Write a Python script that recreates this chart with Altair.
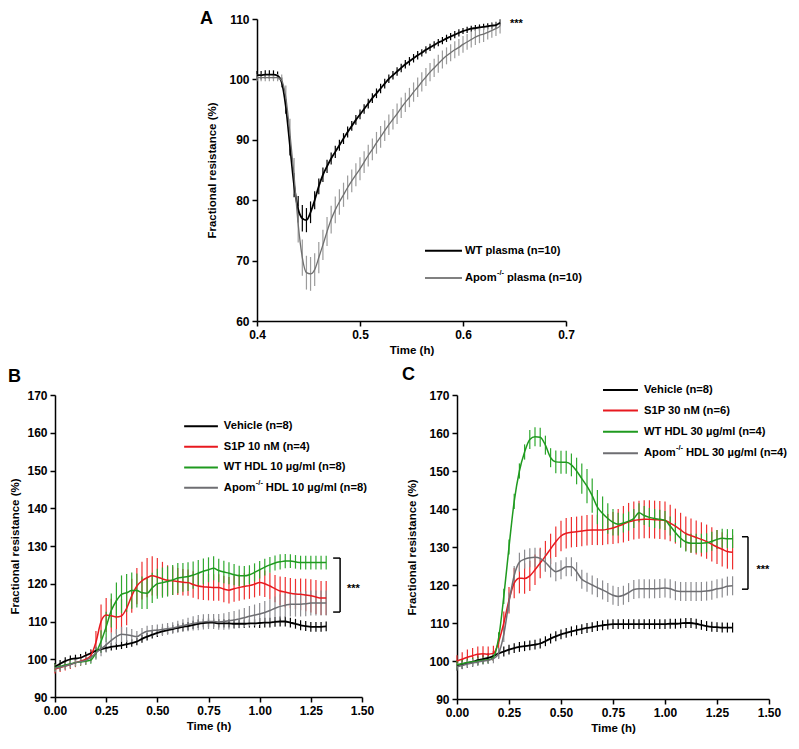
import altair as alt
import pandas as pd

FONT = "Liberation Sans"

# ---------------- Panel A data (time in h, fractional resistance %) ----------------
A_T = [round(0.400 + 0.004 * i, 3) for i in range(60)]
A_WT = [100.7, 100.7, 100.8, 100.8, 100.8, 100.6, 99.5, 95.5, 89.0, 82.5,
        78.5, 77.0, 76.7, 78.0, 80.0, 82.3, 84.2, 85.6, 86.9, 88.0,
        89.1, 90.2, 91.3, 92.3, 93.3, 94.2, 95.1, 96.0, 96.9, 97.7,
        98.5, 99.3, 100.1, 100.7, 101.3, 101.9, 102.5, 103.0, 103.5, 104.0,
        104.4, 104.9, 105.3, 105.7, 106.1, 106.4, 106.8, 107.1, 107.4, 107.7,
        108.0, 108.2, 108.4, 108.5, 108.6, 108.7, 108.8, 108.9, 109.0, 109.4]
A_WT_ERR = [0.7, 0.7, 0.7, 0.7, 0.7, 0.7, 0.8, 1.2, 1.6, 2.0,
            2.2, 2.2, 2.0, 1.8, 1.5, 1.3, 1.2, 1.1, 1.0, 1.0,
            0.9, 0.9, 0.9, 0.8, 0.8, 0.8, 0.8, 0.8, 0.8, 0.8,
            0.8, 0.8, 0.7, 0.7, 0.7, 0.7, 0.7, 0.7, 0.7, 0.7,
            0.6, 0.6, 0.6, 0.6, 0.6, 0.6, 0.6, 0.6, 0.6, 0.6,
            0.5, 0.5, 0.5, 0.5, 0.5, 0.5, 0.5, 0.5, 0.5, 0.5]
A_APOM = [100.3, 100.3, 100.3, 100.3, 100.3, 100.3, 99.8, 97.0, 91.0, 84.0,
          76.0, 70.5, 68.0, 67.8, 68.5, 70.5, 72.6, 74.8, 76.8, 78.4,
          79.7, 80.9, 82.1, 83.2, 84.2, 85.2, 86.3, 87.4, 88.4, 89.5,
          90.5, 91.5, 92.5, 93.4, 94.3, 95.3, 96.2, 97.0, 97.9, 98.7,
          99.6, 100.4, 101.2, 101.9, 102.6, 103.3, 103.9, 104.4, 104.9, 105.3,
          105.8, 106.2, 106.6, 107.0, 107.3, 107.5, 107.8, 108.1, 108.4, 108.8]
A_APOM_ERR = [0.6, 0.6, 0.6, 0.6, 0.6, 0.6, 1.0, 2.0, 2.5, 3.0,
              3.0, 3.0, 2.8, 2.8, 2.7, 2.6, 2.5, 2.4, 2.3, 2.2,
              2.1, 2.0, 2.0, 1.9, 1.9, 1.9, 1.8, 1.8, 1.8, 1.8,
              1.8, 1.7, 1.7, 1.7, 1.7, 1.7, 1.6, 1.6, 1.6, 1.6,
              1.6, 1.5, 1.5, 1.5, 1.5, 1.5, 1.4, 1.4, 1.4, 1.4,
              1.4, 1.3, 1.3, 1.3, 1.3, 1.3, 1.2, 1.2, 1.2, 1.2]

# ---------------- Panels B and C data ----------------
BC_T = [round(0.025 * i, 3) for i in range(54)]

B_VEH = [98.0, 98.8, 99.5, 100.0, 100.2, 100.4, 101.0, 101.6, 102.2, 102.7,
         103.0, 103.3, 103.5, 103.7, 104.0, 104.3, 104.7, 105.4, 106.0, 106.5,
         107.0, 107.4, 107.7, 108.0, 108.3, 108.6, 108.8, 109.1, 109.4, 109.6,
         109.7, 109.7, 109.5, 109.5, 109.5, 109.4, 109.4, 109.4, 109.5, 109.5,
         109.6, 109.7, 109.7, 109.9, 110.0, 110.0, 109.7, 109.4, 109.0, 108.8,
         108.6, 108.6, 108.6, 108.7]
B_VEH_ERR = [1.0, 1.0, 1.0, 1.0, 1.0, 1.0, 1.0, 1.0, 1.0, 1.0,
             1.0, 1.0, 1.0, 1.0, 1.0, 1.0, 1.0, 1.0, 1.0, 1.0,
             1.1, 1.1, 1.1, 1.1, 1.1, 1.1, 1.1, 1.1, 1.1, 1.1,
             1.1, 1.1, 1.1, 1.1, 1.1, 1.1, 1.1, 1.1, 1.1, 1.1,
             1.3, 1.3, 1.3, 1.3, 1.3, 1.3, 1.3, 1.3, 1.3, 1.3,
             1.3, 1.3, 1.3, 1.3]
B_S1P = [97.4, 97.8, 98.2, 98.6, 99.1, 99.5, 100.0, 101.0, 104.5, 110.0,
         111.7, 111.5, 111.2, 111.5, 113.5, 116.8, 119.4, 120.8, 121.6, 122.1,
         121.8, 121.3, 120.9, 120.8, 120.6, 120.4, 120.3, 119.8, 119.4, 119.2,
         119.1, 119.0, 119.0, 118.6, 118.3, 118.7, 119.0, 119.3, 119.5, 119.9,
         120.3, 120.0, 119.4, 118.7, 118.1, 117.8, 117.5, 117.3, 117.2, 117.0,
         116.8, 116.5, 116.2, 116.2]
B_S1P_ERR = [1.2, 1.2, 1.2, 1.2, 1.2, 1.2, 1.3, 1.5, 3.0, 4.5,
             4.5, 4.5, 4.5, 4.5, 4.5, 4.5, 4.8, 5.0, 5.2, 5.2,
             5.0, 4.5, 4.0, 3.8, 3.6, 3.5, 3.5, 3.5, 3.5, 3.5,
             3.5, 3.5, 3.5, 3.5, 3.5, 3.5, 3.5, 3.5, 3.5, 3.5,
             3.5, 3.5, 3.5, 3.6, 3.8, 4.0, 4.0, 4.0, 4.2, 4.3,
             4.4, 4.5, 4.5, 4.5]
B_WT = [97.8, 98.1, 98.5, 98.8, 99.1, 99.3, 99.5, 99.8, 101.7, 104.7,
        108.6, 112.9, 115.5, 117.2, 117.6, 118.2, 118.2, 117.6, 117.5, 118.9,
        120.0, 120.3, 120.6, 121.0, 121.5, 121.7, 121.9, 122.3, 122.8, 123.3,
        123.7, 124.1, 123.5, 123.1, 122.8, 122.4, 122.1, 122.1, 122.4, 123.0,
        123.7, 124.4, 125.0, 125.5, 125.8, 126.0, 126.0, 125.8, 125.6, 125.6,
        125.6, 125.6, 125.6, 125.6]
B_WT_ERR = [1.0, 1.0, 1.0, 1.0, 1.0, 1.0, 1.0, 1.0, 1.5, 3.0,
            4.0, 4.5, 4.8, 5.0, 5.0, 4.8, 4.5, 4.3, 4.2, 4.0,
            4.0, 4.0, 4.0, 4.0, 4.0, 3.8, 3.8, 3.6, 3.5, 3.4,
            3.3, 3.2, 3.1, 3.0, 2.9, 2.8, 2.7, 2.6, 2.5, 2.4,
            2.3, 2.2, 2.1, 2.0, 2.0, 1.9, 1.8, 1.8, 1.8, 1.8,
            1.8, 1.8, 1.8, 1.8]
B_APOM = [97.6, 97.9, 98.2, 98.6, 99.1, 99.4, 99.7, 100.5, 101.7, 102.8,
          103.8, 105.0, 106.0, 106.6, 106.5, 106.2, 106.0, 106.8, 107.4, 107.6,
          107.7, 107.9, 108.1, 108.3, 108.6, 108.9, 109.2, 109.5, 109.7, 109.9,
          110.0, 110.0, 109.9, 110.0, 110.2, 110.4, 110.7, 111.0, 111.4, 111.7,
          112.0, 112.4, 112.9, 113.5, 114.0, 114.3, 114.6, 114.6, 114.6, 114.7,
          114.9, 114.9, 114.9, 114.9]
B_APOM_ERR = [1.0, 1.0, 1.0, 1.0, 1.0, 1.0, 1.2, 1.5, 1.8, 2.0,
              2.0, 2.0, 2.0, 2.0, 2.0, 1.8, 1.5, 1.5, 1.5, 1.5,
              1.5, 1.5, 1.5, 1.5, 1.6, 1.7, 1.8, 1.9, 2.0, 2.0,
              2.0, 2.0, 2.1, 2.2, 2.3, 2.4, 2.5, 2.6, 2.7, 2.8,
              2.9, 3.0, 3.0, 3.1, 3.2, 3.2, 3.3, 3.3, 3.3, 3.3,
              3.3, 3.3, 3.3, 3.3]

C_VEH = [98.8, 99.2, 99.5, 99.8, 100.2, 100.5, 100.8, 101.3, 102.0, 102.5,
         103.0, 103.4, 103.7, 103.9, 104.1, 104.3, 104.6, 105.2, 105.9, 106.5,
         107.0, 107.4, 107.8, 108.1, 108.4, 108.7, 108.9, 109.2, 109.4, 109.6,
         109.7, 109.7, 109.7, 109.7, 109.7, 109.7, 109.7, 109.7, 109.7, 109.7,
         109.7, 109.8, 109.8, 109.9, 110.0, 110.0, 109.8, 109.5, 109.2, 109.0,
         108.9, 108.8, 108.8, 108.8]
C_VEH_ERR = [1.3, 1.3, 1.3, 1.3, 1.3, 1.3, 1.3, 1.3, 1.3, 1.3,
             1.3, 1.3, 1.3, 1.3, 1.3, 1.3, 1.3, 1.3, 1.3, 1.3,
             1.3, 1.3, 1.3, 1.3, 1.3, 1.3, 1.3, 1.3, 1.3, 1.3,
             1.3, 1.3, 1.3, 1.3, 1.3, 1.3, 1.3, 1.3, 1.3, 1.3,
             1.3, 1.3, 1.3, 1.3, 1.3, 1.3, 1.3, 1.3, 1.3, 1.3,
             1.3, 1.3, 1.3, 1.3]
C_S1P = [100.0, 100.5, 101.0, 101.4, 101.8, 101.9, 101.8, 102.0, 105.0, 110.0,
         116.0, 120.5, 121.8, 121.7, 122.4, 124.0, 125.8, 127.6, 129.5, 131.4,
         132.9, 133.6, 133.9, 134.0, 134.2, 134.4, 134.5, 134.5, 134.5, 134.7,
         135.0, 135.5, 136.0, 136.6, 137.0, 137.2, 137.3, 137.3, 137.2, 137.1,
         137.0, 136.3, 135.5, 134.5, 133.5, 133.0, 132.5, 132.0, 131.4, 130.7,
         130.0, 129.4, 128.8, 128.6]
C_S1P_ERR = [1.5, 1.8, 2.0, 2.0, 2.0, 2.0, 2.0, 2.0, 2.5, 3.0,
             3.5, 4.0, 4.0, 4.0, 4.0, 4.0, 4.0, 4.0, 4.0, 4.0,
             4.0, 4.0, 4.0, 4.0, 4.0, 4.0, 4.0, 4.0, 4.0, 4.0,
             4.2, 4.5, 4.8, 5.0, 5.0, 5.0, 5.0, 5.0, 5.0, 5.0,
             5.0, 4.8, 4.6, 4.5, 4.5, 4.5, 4.5, 4.5, 4.5, 4.5,
             4.5, 4.5, 4.5, 4.5]
C_WT = [99.0, 99.3, 99.6, 99.8, 100.0, 100.2, 100.3, 101.0, 106.0, 117.0,
        130.0, 142.0, 150.0, 155.0, 158.3, 159.0, 158.9, 156.8, 153.5, 152.4,
        152.3, 152.3, 151.6, 150.0, 148.0, 146.0, 143.5, 140.5, 138.8, 137.5,
        136.5, 136.0, 136.3, 136.8, 137.5, 139.0, 138.3, 137.8, 137.5, 137.3,
        137.0, 135.5, 133.8, 132.3, 131.3, 131.0, 131.0, 131.0, 131.1, 131.5,
        132.0, 132.3, 132.2, 132.2]
C_WT_ERR = [1.0, 1.0, 1.0, 1.0, 1.0, 1.0, 1.0, 1.0, 1.5, 2.0,
            2.0, 2.0, 2.0, 2.0, 2.5, 2.5, 2.5, 2.5, 2.5, 3.0,
            3.0, 3.0, 3.0, 3.5, 4.0, 4.5, 4.5, 4.5, 4.5, 4.0,
            3.5, 3.0, 2.5, 2.5, 2.5, 2.5, 2.5, 2.5, 2.5, 2.5,
            2.5, 2.5, 2.5, 2.5, 2.5, 2.5, 2.5, 2.5, 2.5, 2.5,
            2.5, 2.5, 2.5, 2.5]
C_APOM = [98.5, 98.8, 99.2, 99.5, 99.7, 100.0, 100.2, 100.6, 102.0, 107.0,
          115.5, 122.5, 126.0, 126.8, 127.2, 127.3, 127.0, 126.0, 124.5, 123.5,
          124.0, 124.8, 124.8, 123.5, 121.5, 120.7, 120.0, 119.3, 118.7, 118.0,
          117.3, 117.0, 117.3, 118.0, 118.8, 119.0, 119.0, 119.0, 119.0, 119.1,
          119.2, 119.0, 118.5, 118.3, 118.3, 118.3, 118.3, 118.3, 118.4, 118.6,
          119.0, 119.2, 119.7, 119.8]
C_APOM_ERR = [1.0, 1.0, 1.0, 1.0, 1.0, 1.0, 1.0, 1.2, 1.5, 2.0,
              2.5, 2.5, 2.5, 2.5, 2.5, 2.5, 2.5, 2.5, 2.5, 2.5,
              2.5, 2.5, 2.5, 2.5, 2.5, 2.5, 2.5, 2.5, 2.5, 2.5,
              2.5, 2.5, 2.5, 2.5, 2.5, 2.5, 2.5, 2.5, 2.5, 2.5,
              2.5, 2.5, 2.5, 2.5, 2.5, 2.5, 2.5, 2.5, 2.5, 2.5,
              2.5, 2.5, 2.5, 2.5]

# ---------------- Text ----------------
Y_TITLE = "Fractional resistance (%)"
X_TITLE = "Time (h)"
A_LEGEND = ["WT plasma (n=10)", "Apom"]
A_LEGEND_REST = "plasma (n=10)"
B_LEGEND = ["Vehicle (n=8)", "S1P 10 nM (n=4)", "WT HDL 10 µg/ml (n=8)", "Apom"]
B_LEGEND_REST = "HDL 10 µg/ml (n=8)"
C_LEGEND = ["Vehicle (n=8)", "S1P 30 nM (n=6)", "WT HDL 30 µg/ml (n=4)", "Apom"]
C_LEGEND_REST = "HDL 30 µg/ml (n=4)"
SUP = "-/-"
STARS = "***"

A_X_TICKS = [0.4, 0.5, 0.6, 0.7]
A_Y_TICKS = [60, 70, 80, 90, 100, 110]
BC_X_TICKS = [0.0, 0.25, 0.5, 0.75, 1.0, 1.25, 1.5]
BC_Y_TICKS = [90, 100, 110, 120, 130, 140, 150, 160, 170]

BLACK = "#000000"
RED_L, RED_B = "#e8191f", "#ee3030"
GRN_L, GRN_B = "#1f9a1f", "#2fa82f"
GRY_L, GRY_B = "#6e6e72", "#8c8c90"
AGRY_L, AGRY_B = "#707070", "#9c9c9c"

LEG_FS = 11.2


def sdf(t, vals, errs):
    return pd.DataFrame([{"t": a, "v": b, "lo": b - c, "hi": b + c}
                         for a, b, c in zip(t, vals, errs)])


def panel(series, xdom, ydom, xvals, yvals, xfmt, width, height, ytp,
          letter, letter_xy, legend, bracket, stars, xshift=0):
    if xshift:
        xs = alt.Scale(domain=xdom, nice=False, zero=False, range=[xshift, xshift + width])
        yax = alt.Axis(values=yvals, format="d", title=Y_TITLE, titlePadding=ytp,
                       offset=-xshift)
    else:
        xs = alt.Scale(domain=xdom, nice=False, zero=False)
        yax = alt.Axis(values=yvals, format="d", title=Y_TITLE, titlePadding=ytp)
    ys = alt.Scale(domain=ydom, nice=False, zero=False)
    xax = alt.Axis(values=xvals, format=xfmt, title=X_TITLE, labelFlush=False)

    def X(f):
        return alt.X(f, type="quantitative", scale=xs, axis=xax)

    def Y(f):
        return alt.Y(f, type="quantitative", scale=ys, axis=yax)

    layers = []
    for s in series:
        layers.append(alt.Chart(s["df"]).mark_rule(color=s["bar"], strokeWidth=1.2)
                      .encode(x=X("t"), y=Y("lo"), y2="hi"))
    for s in series:
        layers.append(alt.Chart(s["df"]).mark_line(color=s["line"], strokeWidth=s["lw"],
                                                   interpolate="monotone")
                      .encode(x=X("t"), y=Y("v")))

    # legend
    lx1, lx2, ltx, lys, labels, rest, lcolors = legend
    for yv, c in zip(lys, lcolors):
        ldf = pd.DataFrame({"x": [lx1], "x2": [lx2], "y": [yv]})
        layers.append(alt.Chart(ldf).mark_rule(color=c, strokeWidth=2)
                      .encode(x=X("x"), x2="x2", y=Y("y")))
    tdf = pd.DataFrame({"x": [ltx] * len(labels), "y": lys[:len(labels)], "label": labels})
    layers.append(alt.Chart(tdf).mark_text(align="left", baseline="middle", font=FONT,
                                           fontWeight="bold", fontSize=LEG_FS, color="black")
                  .encode(x=X("x"), y=Y("y"), text="label:N"))
    sdf_ = pd.DataFrame({"x": [ltx], "y": [lys[-1]], "label": [SUP]})
    layers.append(alt.Chart(sdf_).mark_text(align="left", baseline="middle", font=FONT,
                                            fontWeight="bold", fontSize=7.5, dx=32, dy=-5,
                                            color="black")
                  .encode(x=X("x"), y=Y("y"), text="label:N"))
    rdf = pd.DataFrame({"x": [ltx], "y": [lys[-1]], "label": [rest]})
    layers.append(alt.Chart(rdf).mark_text(align="left", baseline="middle", font=FONT,
                                           fontWeight="bold", fontSize=LEG_FS, dx=42,
                                           color="black")
                  .encode(x=X("x"), y=Y("y"), text="label:N"))

    if bracket is not None:
        bl, br, bt, bb = bracket
        bdf = pd.DataFrame({"x": [bl, br, bl], "x2": [br, br, br],
                            "y": [bt, bt, bb], "y2": [bt, bb, bb]})
        layers.append(alt.Chart(bdf).mark_rule(color="black", strokeWidth=1.5)
                      .encode(x=X("x"), x2="x2", y=Y("y"), y2="y2"))
    stdf = pd.DataFrame({"x": [stars[0]], "y": [stars[1]], "label": [STARS]})
    layers.append(alt.Chart(stdf).mark_text(align="left", baseline="middle", font=FONT,
                                            fontWeight="bold", fontSize=11, dy=3,
                                            color="black")
                  .encode(x=X("x"), y=Y("y"), text="label:N"))

    ldf = pd.DataFrame({"label": [letter]})
    layers.append(alt.Chart(ldf).mark_text(align="left", baseline="alphabetic", font=FONT,
                                           fontWeight="bold", fontSize=18, color="black")
                  .encode(x=alt.value(letter_xy[0] + xshift), y=alt.value(letter_xy[1]),
                          text="label:N"))
    return alt.layer(*layers).properties(width=width, height=height)


A_series = [
    {"df": sdf(A_T, A_WT, A_WT_ERR), "line": BLACK, "bar": BLACK, "lw": 1.8},
    {"df": sdf(A_T, A_APOM, A_APOM_ERR), "line": AGRY_L, "bar": AGRY_B, "lw": 1.3},
]
B_series = [
    {"df": sdf(BC_T, B_VEH, B_VEH_ERR), "line": BLACK, "bar": BLACK, "lw": 1.8},
    {"df": sdf(BC_T, B_S1P, B_S1P_ERR), "line": RED_L, "bar": RED_B, "lw": 1.5},
    {"df": sdf(BC_T, B_WT, B_WT_ERR), "line": GRN_L, "bar": GRN_B, "lw": 1.5},
    {"df": sdf(BC_T, B_APOM, B_APOM_ERR), "line": GRY_L, "bar": GRY_B, "lw": 1.5},
]
C_series = [
    {"df": sdf(BC_T, C_VEH, C_VEH_ERR), "line": BLACK, "bar": BLACK, "lw": 1.8},
    {"df": sdf(BC_T, C_S1P, C_S1P_ERR), "line": RED_L, "bar": RED_B, "lw": 1.5},
    {"df": sdf(BC_T, C_WT, C_WT_ERR), "line": GRN_L, "bar": GRN_B, "lw": 1.5},
    {"df": sdf(BC_T, C_APOM, C_APOM_ERR), "line": GRY_L, "bar": GRY_B, "lw": 1.5},
]

# Panel A sits in the right-hand grid column; its plot area is shifted 200 px left
pA = panel(A_series, [0.4, 0.7], [60, 110], A_X_TICKS, A_Y_TICKS, ".1f", 309, 302, 11,
           "A", (-57, 5),
           (0.5631, 0.599, 0.6019, [71.65, 67.12], A_LEGEND, A_LEGEND_REST, [BLACK, "#808080"]),
           None, (0.6456, 109.7), xshift=-200)
pB = panel(B_series, [0, 1.5], [90, 170], BC_X_TICKS, BC_Y_TICKS, ".2f", 307, 302, 6,
           "B", (-47, -13),
           (0.631, 0.796, 0.825, [161.7, 156.3, 150.8, 145.4], B_LEGEND, B_LEGEND_REST,
            [BLACK, RED_L, GRN_L, GRY_L]),
           (1.359, 1.393, 126.8, 112.5), (1.427, 119.3))
pC = panel(C_series, [0, 1.5], [90, 170], BC_X_TICKS, BC_Y_TICKS, ".2f", 312, 304, 11,
           "C", (-55, -15),
           (0.702, 0.870, 0.899, [171.3, 165.9, 160.3, 154.7], C_LEGEND, C_LEGEND_REST,
            [BLACK, RED_L, GRN_L, GRY_L]),
           (1.370, 1.399, 132.7, 118.9), (1.44, 124.8))

spacer = (alt.Chart(pd.DataFrame({"z": [0]})).mark_point(size=0, opacity=0)
          .encode(x=alt.value(0), y=alt.value(0))
          .properties(width=307, height=302))

chart = (alt.concat(spacer, pA, pB, pC, columns=2,
                    spacing={"row": 74, "column": 95}, bounds="flush")
         .properties(padding={"left": 0, "top": 2, "right": 2, "bottom": 2})
         .configure_view(stroke=None)
         .configure_axis(labelFont=FONT, labelFontWeight="bold", labelFontSize=12,
                         labelColor="black", titleFont=FONT, titleFontWeight="bold",
                         titleFontSize=11.5, titleColor="black", domainColor="black",
                         domainWidth=1.5, tickColor="black", tickWidth=1.5, tickSize=5,
                         labelPadding=3, grid=False)
         .configure_axisX(titlePadding=4))

chart.save("out.html", embed_options={"renderer": "svg", "actions": False})
